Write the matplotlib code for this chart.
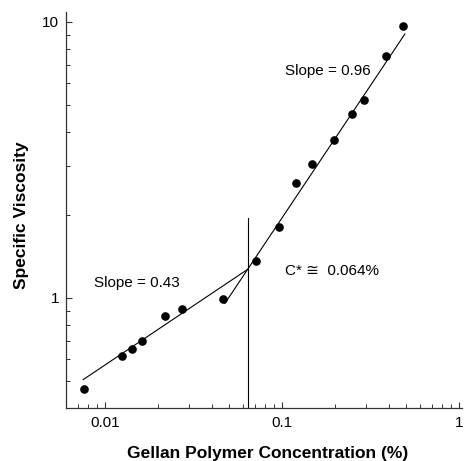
import numpy as np
import matplotlib
matplotlib.use("Agg")
import matplotlib.pyplot as plt

plt.rcParams['font.family'] = ['Liberation Sans', 'DejaVu Sans']

# gellan concentration (%) vs specific viscosity
conc = [0.0076, 0.0125, 0.0143, 0.0161, 0.0218, 0.0273, 0.0466,
        0.0716, 0.0958, 0.1205, 0.1483, 0.196, 0.2486, 0.2917, 0.387, 0.4845]
visc = [0.467, 0.616, 0.653, 0.699, 0.863, 0.912, 0.992,
        1.36, 1.81, 2.60, 3.06, 3.73, 4.64, 5.20, 7.51, 9.65]

c_star = 0.064        # overlap concentration
eta_star = 1.27       # viscosity where the two fits cross
slope_dilute = 0.43
slope_semi = 0.96
dilute_range = [0.00754, c_star]
semi_range = [0.0476, 0.495]

xticks = [0.01, 0.1, 1]
xticklabels = ['0.01', '0.1', '1']
yticks = [1, 10]
yticklabels = ['1', '10']

fig = plt.figure(figsize=(4.65, 4.61), dpi=100)
ax = fig.add_axes([0.1419, 0.1150, 0.8516, 0.8590])
ax.set_xscale('log')
ax.set_yscale('log')
ax.set_xlim(0.006022, 1.0397)
ax.set_ylim(0.3994, 10.87)

ax.plot(conc, visc, 'o', color='black', markersize=5.2, zorder=3)

# power-law fits through the crossover point
xd = np.array(dilute_range)
ax.plot(xd, eta_star * (xd / c_star) ** slope_dilute, color='black', lw=0.8)
xs = np.array(semi_range)
ax.plot(xs, eta_star * (xs / c_star) ** slope_semi, color='black', lw=0.8)
ax.plot([c_star, c_star], [0.3994, 1.95], color='black', lw=0.8)

ax.text(0.104, 6.64, 'Slope = 0.96', fontsize=11, va='center', ha='left')
ax.text(0.0087, 1.13, 'Slope = 0.43', fontsize=11, va='center', ha='left')
ax.text(0.104, 1.253, 'C* \u2245  0.064%', fontsize=11, va='center', ha='left')

for s in ['top', 'right']:
    ax.spines[s].set_visible(False)
for s in ['left', 'bottom']:
    ax.spines[s].set_color('#333333')
    ax.spines[s].set_linewidth(0.9)

ax.set_xticks(xticks)
ax.set_xticklabels(xticklabels)
ax.set_yticks(yticks)
ax.set_yticklabels(yticklabels)
ax.tick_params(which='both', direction='in', colors='#333333', labelcolor='black',
               labelsize=11)
ax.tick_params(which='major', length=4.5, width=0.8)
ax.tick_params(which='minor', length=2.8, width=0.7)
ax.tick_params(axis='x', pad=6)
ax.tick_params(axis='y', pad=5)

ax.set_xlabel('Gellan Polymer Concentration (%)', fontsize=12.5, fontweight='bold')
ax.set_ylabel('Specific Viscosity', fontsize=12.5, fontweight='bold')
ax.xaxis.set_label_coords(0.509, -0.096)
ax.yaxis.set_label_coords(-0.093, 0.487)

fig.savefig('out.png', dpi=100)
